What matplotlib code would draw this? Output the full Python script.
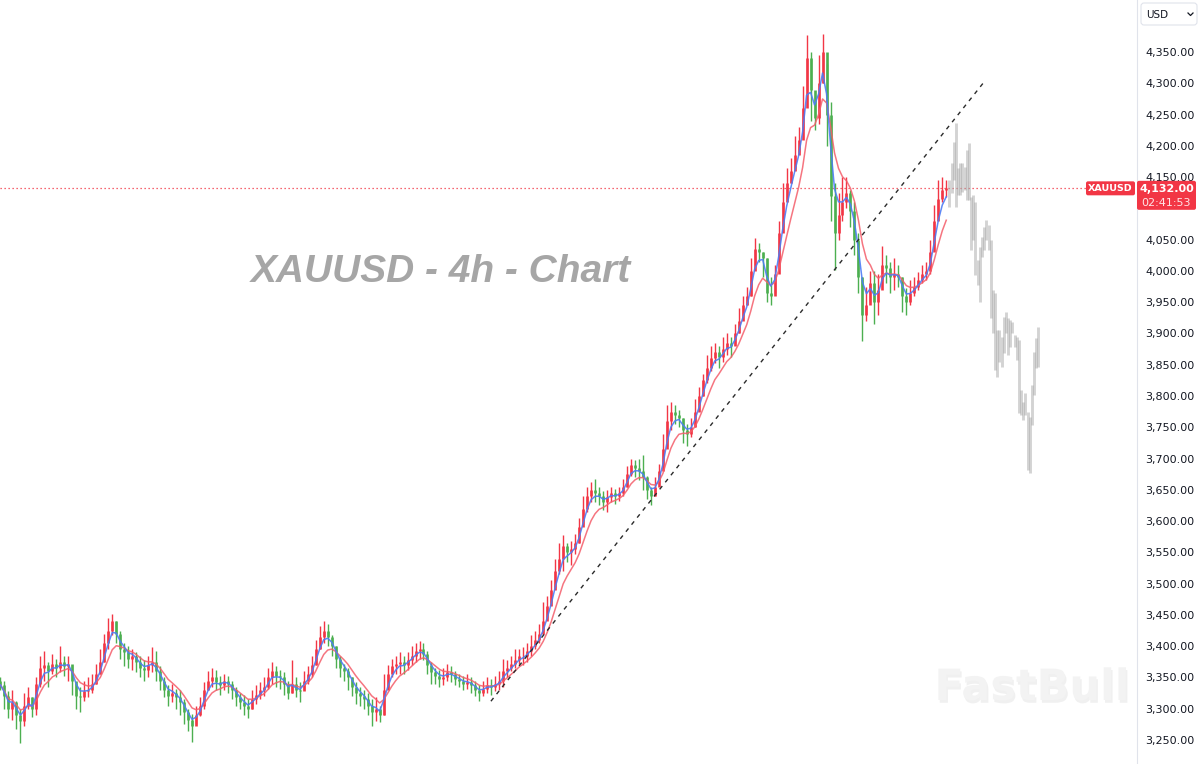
import numpy as np
import pandas as pd
import matplotlib.pyplot as plt
import matplotlib.patheffects as pe
from matplotlib.patches import FancyBboxPatch

# 4h bars (close / high / low), open = previous close
close = [3338, 3320, 3300, 3310, 3290, 3280, 3305, 3318, 3300, 3340,
         3365, 3370, 3360, 3372, 3365, 3375, 3368, 3372, 3345, 3320,
         3318, 3328, 3330, 3340, 3355, 3375, 3405, 3425, 3440, 3420,
         3395, 3390, 3380, 3385, 3375, 3365, 3362, 3370, 3375, 3360,
         3345, 3330, 3320, 3325, 3318, 3310, 3295, 3282, 3272, 3290,
         3305, 3330, 3345, 3350, 3342, 3338, 3345, 3340, 3330, 3318,
         3310, 3305, 3300, 3315, 3322, 3330, 3335, 3350, 3360, 3352,
         3350, 3340, 3325, 3340, 3330, 3328, 3345, 3355, 3370, 3395,
         3415, 3425, 3415, 3400, 3380, 3365, 3360, 3350, 3335, 3325,
         3320, 3315, 3305, 3295, 3300, 3290, 3330, 3355, 3368, 3372,
         3375, 3370, 3378, 3385, 3392, 3395, 3388, 3370, 3358, 3352,
         3348, 3350, 3358, 3355, 3348, 3345, 3340, 3342, 3338, 3330,
         3325, 3332, 3338, 3335, 3340, 3345, 3360, 3365, 3372, 3378,
         3385, 3385, 3392, 3400, 3410, 3420, 3440, 3465, 3490, 3520,
         3540, 3560, 3550, 3555, 3565, 3590, 3620, 3640, 3650, 3645,
         3640, 3630, 3638, 3645, 3640, 3645, 3655, 3675, 3690, 3685,
         3680, 3670, 3650, 3640, 3655, 3680, 3715, 3760, 3775, 3770,
         3765, 3745, 3740, 3750, 3775, 3800, 3825, 3845, 3860, 3870,
         3862, 3875, 3885, 3880, 3900, 3920, 3945, 3960, 4000, 4035,
         4030, 4020, 3965, 3960, 3995, 4060, 4110, 4140, 4160, 4185,
         4210, 4260, 4340, 4290, 4245, 4300, 4350, 4250, 4120, 4060,
         4090, 4110, 4125, 4095, 4050, 3990, 3930, 3945, 3980, 3950,
         3970, 4010, 4005, 3990, 3995, 3990, 3960, 3950, 3965, 3975,
         3985, 3995, 4000, 4030, 4080, 4115, 4130, 4132]
high = [3350, 3345, 3328, 3330, 3312, 3300, 3325, 3335, 3318, 3350,
        3385, 3392, 3375, 3388, 3380, 3400, 3385, 3385, 3370, 3340,
        3335, 3345, 3350, 3355, 3372, 3395, 3420, 3445, 3452, 3440,
        3425, 3405, 3400, 3395, 3390, 3385, 3378, 3385, 3398, 3392,
        3368, 3350, 3338, 3340, 3332, 3330, 3315, 3300, 3292, 3305,
        3318, 3342, 3360, 3365, 3362, 3352, 3355, 3352, 3345, 3335,
        3325, 3322, 3315, 3330, 3338, 3342, 3350, 3365, 3375, 3368,
        3362, 3358, 3345, 3378, 3350, 3342, 3360, 3368, 3385, 3410,
        3432, 3440, 3435, 3418, 3400, 3385, 3372, 3365, 3350, 3342,
        3335, 3330, 3325, 3315, 3318, 3305, 3355, 3370, 3380, 3385,
        3390, 3385, 3390, 3400, 3405, 3408, 3405, 3392, 3375, 3365,
        3362, 3365, 3372, 3368, 3360, 3356, 3352, 3355, 3350, 3345,
        3338, 3345, 3350, 3348, 3352, 3360, 3380, 3378, 3385, 3395,
        3395, 3398, 3405, 3418, 3425, 3435, 3470, 3480, 3505, 3540,
        3565, 3578, 3565, 3568, 3580, 3605, 3640, 3655, 3662, 3668,
        3655, 3648, 3650, 3655, 3652, 3655, 3668, 3688, 3700, 3698,
        3700, 3705, 3672, 3655, 3670, 3692, 3740, 3785, 3790, 3785,
        3778, 3765, 3755, 3765, 3795, 3815, 3835, 3865, 3880, 3885,
        3880, 3895, 3900, 3895, 3915, 3940, 3960, 3975, 4020, 4052,
        4045, 4030, 4020, 3990, 4010, 4080, 4140, 4165, 4180, 4215,
        4230, 4295, 4377, 4350, 4280, 4345, 4378, 4330, 4270, 4140,
        4125, 4150, 4150, 4130, 4110, 4060, 3990, 3975, 4000, 4000,
        3995, 4040, 4025, 4015, 4020, 4010, 3990, 3972, 3985, 3990,
        3998, 4010, 4015, 4050, 4105, 4145, 4150, 4145]
low = [3330, 3300, 3285, 3282, 3268, 3245, 3272, 3300, 3286, 3290,
       3335, 3345, 3335, 3355, 3350, 3358, 3352, 3345, 3322, 3300,
       3295, 3312, 3318, 3325, 3340, 3355, 3375, 3395, 3418, 3405,
       3380, 3368, 3365, 3362, 3358, 3350, 3345, 3350, 3358, 3345,
       3330, 3318, 3305, 3310, 3300, 3290, 3275, 3265, 3247, 3275,
       3288, 3300, 3330, 3335, 3330, 3322, 3330, 3325, 3315, 3305,
       3300, 3290, 3285, 3300, 3308, 3315, 3320, 3332, 3340, 3335,
       3332, 3322, 3315, 3325, 3318, 3310, 3330, 3340, 3350, 3370,
       3395, 3405, 3400, 3385, 3365, 3350, 3345, 3330, 3320, 3308,
       3305, 3300, 3290, 3272, 3280, 3278, 3290, 3335, 3350, 3355,
       3355, 3355, 3362, 3370, 3375, 3380, 3378, 3355, 3340, 3340,
       3335, 3338, 3345, 3342, 3338, 3335, 3330, 3332, 3325, 3320,
       3312, 3320, 3325, 3322, 3328, 3330, 3335, 3350, 3360, 3365,
       3372, 3370, 3375, 3385, 3395, 3405, 3420, 3445, 3470, 3495,
       3515, 3520, 3535, 3530, 3548, 3565, 3595, 3615, 3630, 3630,
       3625, 3618, 3615, 3630, 3628, 3632, 3640, 3655, 3672, 3670,
       3665, 3650, 3635, 3625, 3640, 3662, 3690, 3720, 3745, 3755,
       3750, 3725, 3720, 3735, 3750, 3785, 3800, 3820, 3840, 3852,
       3845, 3855, 3865, 3862, 3885, 3900, 3930, 3945, 3960, 4010,
       4015, 3990, 3950, 3945, 3965, 4020, 4070, 4115, 4140, 4165,
       4190, 4225, 4290, 4240, 4225, 4235, 4300, 4200, 4080, 4002,
       4050, 4080, 4100, 4070, 4025, 3965, 3888, 3920, 3950, 3915,
       3930, 3985, 3980, 3965, 3970, 3975, 3935, 3930, 3945, 3960,
       3970, 3980, 3985, 3995, 4040, 4090, 4110, 4118]

# projected (grey) path after the last bar
ghost_high = [4145, 4172, 4206, 4236, 4164, 4172, 4172, 4166, 4193, 4204,
              4118, 4121, 4110, 4017, 4038, 4054, 4070, 4081, 4073, 4049,
              3969, 3964, 3905, 3905, 3894, 3926, 3934, 3924, 3921, 3918,
              3897, 3894, 3889, 3810, 3790, 3805, 3774, 3766, 3818, 3870,
              3892, 3910]
ghost_low = [4102, 4124, 4145, 4102, 4121, 4121, 4126, 4129, 4113, 4113,
             4033, 4049, 3993, 3977, 3950, 4022, 4033, 4049, 4033, 3924,
             3901, 3842, 3830, 3854, 3846, 3868, 3901, 3865, 3878, 3901,
             3878, 3858, 3773, 3770, 3762, 3770, 3682, 3677, 3754, 3801,
             3844, 3846]

last_price = 4132.00
countdown = "02:41:53"
symbol = "XAUUSD"
title = "XAUUSD - 4h - Chart"
trend_x = [122.9, 246.6]      # bar index
trend_y = [3312, 4303]        # price
price_ticks = np.arange(3250, 4351, 50)

UP = '#f23645'     # red = up (FastBull convention)
DOWN = '#4caf50'   # green = down

W, H = 1203, 764
fig = plt.figure(figsize=(W / 100, H / 100), dpi=100)
ax = fig.add_axes([0, 0, 1137 / W, 1])

n = len(close)
x = np.arange(n)
c = np.array(close, float)
o = np.r_[3345.0, c[:-1]]
hi = np.array(high, float)
lo = np.array(low, float)
cols = [UP if cc >= oo else DOWN for oo, cc in zip(o, c)]

# moving averages
s = pd.Series(c)
ma_fast = s.ewm(span=3).mean()
ma_slow = s.ewm(span=7).mean()

ax.vlines(x, lo, hi, colors=cols, lw=1.0, zorder=3)
ax.vlines(x, np.minimum(o, c), np.maximum(o, c), colors=cols, lw=1.9, zorder=3)
ax.plot(x, ma_slow, color='#f45d6a', lw=1.1, alpha=0.85, zorder=4)
ax.plot(x, ma_fast, color='#4d7cf5', lw=1.1, alpha=0.9, zorder=5)

# grey projection bars
gx = n - 0.2 + 0.544 * np.arange(len(ghost_high))
ax.vlines(gx, ghost_low, ghost_high, color='#a8a8a8', alpha=0.5, lw=2.1, zorder=2)

# dashed trend line
ax.plot(trend_x, trend_y, color='#2a2a2a', lw=1.0, ls=(0, (3, 3.5)), zorder=6)

ax.set_xlim(-0.125, 284.8)
ax.set_ylim(3211.6, 4433.1)

# last price dotted line
ax.axhline(last_price, xmax=1087 / 1137, color=UP, lw=0.9, ls=(0, (1, 2.2)), zorder=1)

# right price scale (label under the price box is hidden)
ax.yaxis.tick_right()
ax.set_yticks(price_ticks)
ax.set_yticklabels(['' if abs(v - last_price) < 40 and v < last_price else f"{v:,.2f}"
                    for v in price_ticks])
ax.tick_params(axis='y', length=0, pad=6, labelsize=8, labelcolor='#131722')
ax.set_xticks([])
for side in ['left', 'top', 'bottom']:
    ax.spines[side].set_visible(False)
ax.spines['right'].set_color('#e0e3eb')
ax.spines['right'].set_linewidth(0.8)

# overlay in image pixel coordinates for labels / decorations
ov = fig.add_axes([0, 0, 1, 1], zorder=10)
ov.set_xlim(0, W)
ov.set_ylim(H, 0)
ov.axis('off')
ov.patch.set_alpha(0)

fig.canvas.draw()
y_last = H - ax.transData.transform((0, last_price))[1]

ov.add_patch(FancyBboxPatch((1086, y_last - 7), 49, 14,
                            boxstyle='round,pad=0,rounding_size=2',
                            fc=UP, ec='none'))
ov.text(1110.5, y_last + 0.5, symbol, color='white', fontsize=6.8,
        fontweight='bold', ha='center', va='center')
ov.add_patch(FancyBboxPatch((1137, y_last - 7.5), 59, 29,
                            boxstyle='round,pad=0,rounding_size=2',
                            fc=UP, ec='none'))
ov.text(1166.5, y_last + 0.5, f"{last_price:,.2f}", color='white', fontsize=8,
        fontweight='bold', ha='center', va='center')
ov.text(1166.5, y_last + 14.5, countdown, color='#ffe5e7', fontsize=8,
        ha='center', va='center')

# currency selector
ov.add_patch(FancyBboxPatch((1141, 3), 56, 22, boxstyle='round,pad=0,rounding_size=3',
                            fc='white', ec='#e0e3eb', lw=0.8))
ov.text(1146, 14.5, "USD", fontsize=7.5, color='#131722', va='center')
ov.plot([1188, 1190.5, 1193], [13, 15.5, 13], color='#131722', lw=0.9)

# title and watermark
ov.text(441, 272, title, fontsize=28, family='Liberation Sans', fontweight='bold',
        style='italic', color='#a6a6a6', ha='center', va='center')
ov.text(1032, 688, "FastBull", fontsize=31, fontweight='bold', color='#f3f3f3',
        ha='center', va='center',
        path_effects=[pe.withSimplePatchShadow(offset=(1, -2), shadow_rgbFace='#e6e6e6', alpha=0.6)])

fig.savefig('out.png', dpi=100)
